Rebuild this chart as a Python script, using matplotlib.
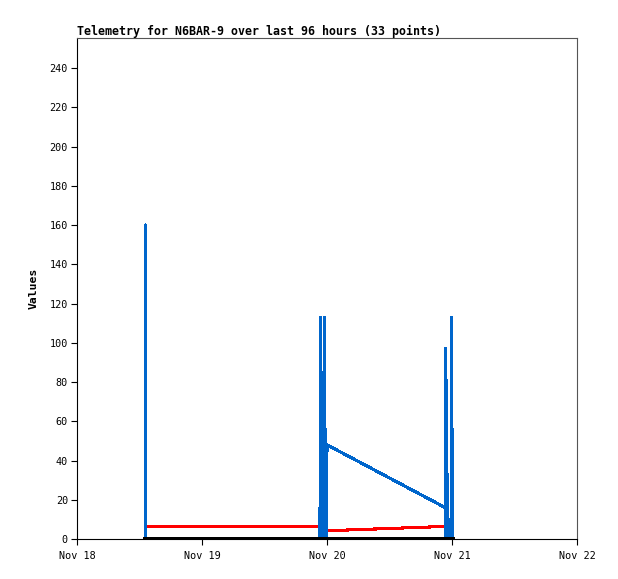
#! /usr/bin/env python
# -*- coding: utf-8 -*-
"""
Telemetry chart for N6BAR-9 (last 96 hours)
"""
import datetime as dt
import numpy as np
import matplotlib
matplotlib.use('Agg')
import matplotlib.pyplot as plt
import matplotlib.dates as mdates

## Data
start = dt.datetime(2018, 11, 18)

# Hours since Nov 18 00:00 for each of the 33 packets
hours = [13.10, 13.10, 13.12,
         46.50, 46.65, 46.75, 46.85, 46.95, 47.05, 47.15, 47.25, 47.40,
         47.55, 47.65, 47.75, 47.85, 47.95, 48.00,
         70.70, 70.75, 70.85, 70.95, 71.00, 71.10, 71.20, 71.35, 71.50,
         71.70, 71.85, 71.90, 71.95, 72.02, 72.05]

# Telemetry channels
chan_blue = [0, 160, 0,
             0, 0, 113, 0, 85, 0, 28, 0, 20,
             113, 0, 56, 0, 25, 48,
             16, 97, 0, 81, 0, 33, 0, 10, 0,
             0, 0, 113, 0, 56, 0]
chan_red = [3, 6.5, 6.5,
            6.5, 4.2, 4.2, 4.2, 4.2, 4.2, 4.2, 4.2, 4.2,
            4.2, 4.2, 4.2, 4.2, 4.2, 4.2,
            6.4, 6.4, 6.4, 6.4, 6.4, 6.4, 6.4, 6.4, 6.4,
            6.4, 6.4, 6.4, 6.2, 5.0, 4.6]
chan_black = [0] * 33

day_ticks = [0, 1, 2, 3, 4]
y_ticks = np.arange(0, 241, 20)


def main():
    times = [start + dt.timedelta(hours=h) for h in hours]

    fig = plt.figure(figsize=(6.18, 5.79), dpi=100)
    ax = fig.add_axes([77 / 618., 40 / 579., 500 / 618., 501 / 579.])

    ax.plot(times, chan_red, color='#ff0000', lw=1.5, antialiased=False)
    ax.plot(times, chan_blue, color='#0066cc', lw=1.5, antialiased=False)
    ax.plot(times, chan_black, color='black', lw=2.2, antialiased=False)

    # Axes limits and ticks
    ax.set_xlim(start, start + dt.timedelta(days=4))
    ax.set_ylim(0, 255.3)
    ax.set_xticks([start + dt.timedelta(days=d) for d in day_ticks])
    ax.xaxis.set_major_formatter(mdates.DateFormatter('%b %d'))
    ax.set_yticks(y_ticks)
    ax.tick_params(direction='out', length=4.5, width=0.8, color='black',
                   labelsize=7.3, pad=2)
    ax.tick_params(axis='x', pad=4)
    for lab in ax.get_xticklabels() + ax.get_yticklabels():
        lab.set_family('DejaVu Sans Mono')

    for side in ['left', 'bottom']:
        ax.spines[side].set_color('black')
    for side in ['top', 'right']:
        ax.spines[side].set_color('#555555')

    ax.set_ylabel('Values', family='DejaVu Sans Mono', fontweight='bold',
                  fontsize=8.2, labelpad=8)
    fig.text(77 / 618., 1 - 31 / 579., 'Telemetry for N6BAR-9 over last 96 hours (33 points)',
             family='DejaVu Sans Mono', fontweight='bold', fontsize=8.4,
             ha='left', va='center')

    fig.savefig('out.png', dpi=100, facecolor='white')


if __name__ == '__main__':
    main()
